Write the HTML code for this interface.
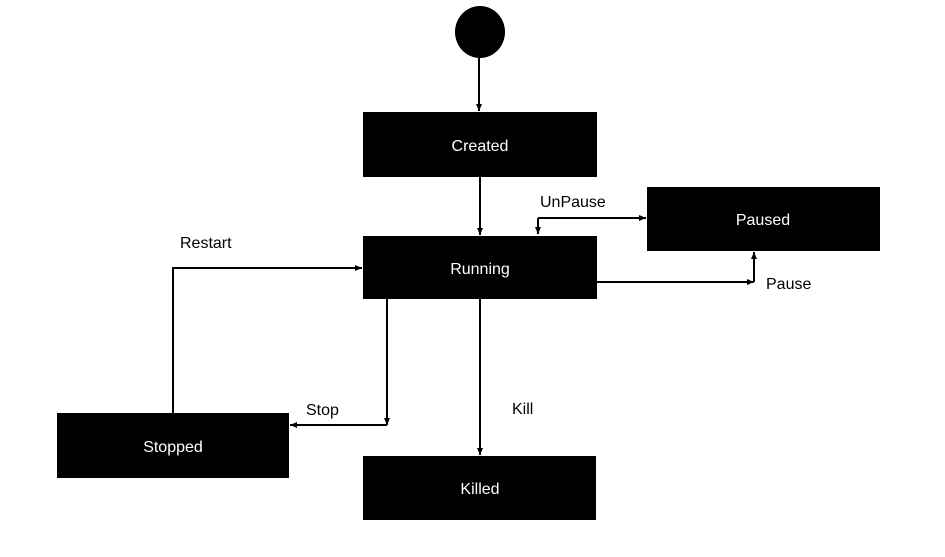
<!DOCTYPE html>
<html><head><meta charset="utf-8"><style>
html,body{margin:0;padding:0;background:#fff;}
body{width:945px;height:552px;overflow:hidden;}
svg text{font-family:"Liberation Sans",sans-serif;}
</style></head><body>
<svg width="945" height="552" viewBox="0 0 945 552" xmlns="http://www.w3.org/2000/svg">
<defs>
<marker id="a" markerWidth="8" markerHeight="8" refX="7" refY="4" orient="auto" markerUnits="userSpaceOnUse">
<path d="M0,1 L7,4 L0,7 z" fill="#000"/></marker>
</defs>
<ellipse cx="480" cy="32" rx="25" ry="26" fill="#000"/>
<rect x="363" y="112" width="234" height="65" fill="#000"/>
<rect x="363" y="236" width="234" height="63" fill="#000"/>
<rect x="647" y="187" width="233" height="64" fill="#000"/>
<rect x="57" y="413" width="232" height="65" fill="#000"/>
<rect x="363" y="456" width="233" height="64" fill="#000"/>
<g fill="#fff" font-size="16" text-anchor="middle">
<text x="480" y="151">Created</text>
<text x="480" y="274">Running</text>
<text x="763" y="225">Paused</text>
<text x="173" y="452">Stopped</text>
<text x="480" y="494">Killed</text>
</g>
<g stroke="#000" stroke-width="2" fill="none">
<line x1="479" y1="58" x2="479" y2="111" marker-end="url(#a)"/>
<line x1="480" y1="177" x2="480" y2="235" marker-end="url(#a)"/>
<polyline points="538,218 646,218" marker-end="url(#a)"/>
<polyline points="538,218 538,234" marker-end="url(#a)"/>
<polyline points="597,282 754,282" marker-end="url(#a)"/>
<polyline points="754,282 754,252" marker-end="url(#a)"/>
<line x1="480" y1="299" x2="480" y2="455" marker-end="url(#a)"/>
<polyline points="387,299 387,425" marker-end="url(#a)"/>
<polyline points="387,425 290,425" marker-end="url(#a)"/>
<polyline points="173,413 173,268 362,268" marker-end="url(#a)"/>
</g>
<g fill="#000" font-size="16">
<text x="180" y="248">Restart</text>
<text x="540" y="207">UnPause</text>
<text x="766" y="289">Pause</text>
<text x="306" y="415">Stop</text>
<text x="512" y="414">Kill</text>
</g>
</svg>
</body></html>
